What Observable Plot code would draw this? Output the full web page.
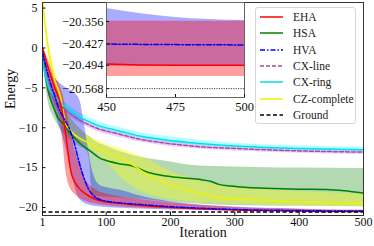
<!DOCTYPE html>
<html><head><meta charset="utf-8">
<script src="https://cdn.jsdelivr.net/npm/d3@7"></script>
<script src="https://cdn.jsdelivr.net/npm/@observablehq/plot@0.6"></script>
<style>
body{margin:0;background:white;}
#wrap{position:relative;width:374px;height:246px;overflow:hidden;font-family:"Liberation Serif",serif;background:white;}
#wrap svg.plotsvg{position:absolute;}
#legend{position:absolute;left:255px;top:7px;width:101px;height:117px;border:1px solid #d6d6d6;border-radius:3px;background:rgba(255,255,255,0.85);box-sizing:border-box;font-family:"Liberation Serif",serif;}
.row{position:absolute;left:4px;height:14px;display:flex;align-items:center;font-size:11.5px;color:#222;white-space:nowrap;}
.row svg{margin-right:9px;}
</style></head><body><div id="wrap"></div>
<script>
// ---------- data ----------
const xTicks = [1, 100, 200, 300, 400, 500];
const yTicks = [5, 0, -5, -10, -15, -20];
const insetXTicks = [450, 475, 500];
const insetYTicks = [-20.356, -20.427, -20.494, -20.568];
const groundEnergy = -20.568;

const ehaIter = [1, 10, 20, 29, 33, 37, 40, 45, 52, 58, 68, 84, 100, 125, 150, 200, 250, 300, 400, 450, 475, 500];
const ehaMean = [0, -2.5, -5, -7, -8.5, -10.8, -12.6, -15.4, -16.9, -17.6, -18.3, -19, -19.3, -19.5, -19.7, -20, -20.17, -20.3, -20.43, -20.49, -20.494, -20.494];
const ehaLo   = [-0.4, -4, -7, -9.2, -12, -15.2, -16.6, -17.7, -18.4, -18.8, -19.2, -19.55, -19.75, -19.95, -20.05, -20.2, -20.3, -20.4, -20.5, -20.53, -20.53, -20.53];
const ehaHi   = [0.4, -1.5, -3.5, -5, -6, -7.5, -8.5, -10.3, -13, -14.3, -16.5, -17.8, -18.3, -18.7, -18.95, -19.4, -19.75, -20.0, -20.25, -20.355, -20.355, -20.355];

const hvaIter = [1, 10, 20, 26, 34, 42, 50, 55, 60, 65, 72, 79, 90, 100, 125, 150, 200, 250, 300, 400, 450, 475, 500];
const hvaMean = [-0.5, -3.5, -6, -7.5, -8.8, -10, -11.8, -13.4, -14.9, -16.2, -17.6, -18.4, -19, -19.2, -19.45, -19.6, -19.9, -20.1, -20.25, -20.38, -20.427, -20.429, -20.43];
const hvaLo   = [-1, -5, -8, -9.5, -11.5, -14.2, -17, -18.4, -19.1, -19.4, -19.65, -19.8, -19.9, -20, -20.1, -20.2, -20.3, -20.38, -20.42, -20.47, -20.497, -20.497, -20.497];
const hvaHi   = [0, -2.2, -3.8, -4.3, -4.8, -5.2, -5.6, -6, -6.8, -9, -12.5, -15.5, -17.2, -17.5, -17.9, -18.5, -19.3, -19.7, -19.95, -20.2, -20.315, -20.343, -20.353];

const hsaIter = [1, 5, 10, 15, 20, 26, 36, 42, 50, 60, 75, 90, 100, 120, 141, 166, 193, 220, 247, 262, 275, 294, 320, 360, 400, 443, 470, 500];
const hsaMean = [-0.5, -3.2, -5.5, -6.8, -7.8, -8.9, -9.7, -10.5, -11.2, -12, -12.9, -13.8, -14.1, -14.5, -14.8, -15.6, -16.05, -16.3, -16.5, -16.7, -17.1, -17.3, -17.5, -17.6, -17.7, -17.75, -17.9, -18.2];
const hsaBandIter = [1, 10, 20, 30, 40, 50, 60, 70, 74, 77, 80, 100, 130, 160, 193, 232, 280, 350, 400, 500];
const hsaHi = [0, -3.8, -5.8, -7.2, -8.3, -9.3, -10.2, -10.9, -11.1, -11.3, -11.5, -12.3, -13.2, -13.8, -14.2, -14.7, -14.9, -15, -15.05, -15.1];
const hsaLo = [-1, -6.8, -8.9, -10.3, -11.2, -11.8, -12.4, -12.9, -14, -17.5, -18.5, -18.7, -18.8, -19.0, -19.3, -19.5, -19.7, -19.8, -19.85, -19.9];

const czIter = [1, 5, 10, 15, 21, 26, 30, 37, 45, 60, 73, 90, 110, 130, 151, 170, 193, 216, 250, 279, 320, 372, 430, 500];
const czMean = [6.2, 3, 0, -2.3, -4.3, -5.3, -6.5, -9.5, -10.4, -11.4, -11.9, -12.7, -13.4, -14.1, -15.2, -16.2, -17, -17.6, -18.3, -18.8, -19, -19.2, -19.35, -19.5];
const czBandIter = [1, 10, 20, 30, 45, 60, 80, 100, 130, 160, 200, 250, 300, 400, 500];
const czHi = [6.6, 1, -2.5, -5, -8.8, -10.4, -11.3, -12, -12.8, -13.8, -15.5, -16.8, -17.5, -18, -18.3];
const czLo = [5.8, -1.2, -5.5, -8.3, -11.2, -12.2, -12.9, -14.3, -16.8, -18.2, -19, -19.4, -19.6, -19.8, -19.9];

const cxIter = [1, 5, 10, 15, 20, 30, 40, 50, 60, 75, 90, 110, 125, 150, 190, 250, 300, 400, 500];
const ringMean = [-1.5, -3.3, -4.8, -5.6, -6.1, -6.9, -7.6, -8.2, -8.7, -9.3, -9.8, -10.2, -10.5, -11, -11.5, -12, -12.3, -12.6, -12.75];
const ringHi   = [-1.2, -2.9, -4.3, -5.1, -5.6, -6.4, -7.1, -7.7, -8.2, -8.8, -9.3, -9.75, -10.05, -10.55, -11.05, -11.6, -11.95, -12.3, -12.45];
const ringLo   = [-1.8, -3.6, -5.1, -5.9, -6.4, -7.2, -7.9, -8.5, -9.0, -9.6, -10.1, -10.5, -10.8, -11.3, -11.8, -12.3, -12.55, -12.85, -13.0];
const lineMean = [-1, -3.2, -5, -5.9, -6.5, -7.3, -8, -8.6, -9.1, -9.7, -10.2, -10.6, -10.9, -11.4, -11.9, -12.4, -12.6, -12.9, -13.05];
const lineHi   = [-0.8, -2.9, -4.7, -5.6, -6.2, -7.0, -7.7, -8.3, -8.8, -9.4, -9.9, -10.3, -10.6, -11.1, -11.6, -12.1, -12.35, -12.65, -12.8];
const lineLo   = [-1.3, -3.5, -5.4, -6.3, -6.9, -7.7, -8.4, -9.0, -9.5, -10.1, -10.6, -11.0, -11.3, -11.75, -12.25, -12.7, -12.9, -13.2, -13.35];

const names = ["EHA", "HSA", "HVA", "CX-line", "CX-ring", "CZ-complete", "Ground"];
const colors = ["#ff0000", "#008000", "#0000ff", "#a0509c", "#00e0e8", "#f2f200", "#000000"];
const fills  = ["#ff0000", "#008000", "#0000ff", "#cc55ff", "#00ffff", "#ffff00"];
const dashes = [null, null, "5,2,1.5,2", "4,2", null, null, "4,2.5"];

// ---------- tables ----------
const tbl = (iter, cols) => iter.map((x, i) => { const o = {x}; for (const k in cols) o[k] = cols[k][i]; return o; });
const S = [
  {line: tbl(ehaIter, {y: ehaMean}), band: tbl(ehaIter, {lo: ehaLo, hi: ehaHi}), op: 0.38},
  {line: tbl(hsaIter, {y: hsaMean}), band: tbl(hsaBandIter, {lo: hsaLo, hi: hsaHi}), op: 0.3},
  {line: tbl(hvaIter, {y: hvaMean}), band: tbl(hvaIter, {lo: hvaLo, hi: hvaHi}), op: 0.33},
  {line: tbl(cxIter, {y: lineMean}), band: tbl(cxIter, {lo: lineLo, hi: lineHi}), op: 0.3},
  {line: tbl(cxIter, {y: ringMean}), band: tbl(cxIter, {lo: ringLo, hi: ringHi}), op: 0.3},
  {line: tbl(czIter, {y: czMean}), band: tbl(czBandIter, {lo: czLo, hi: czHi}), op: 0.35}
];
const bandOrder = [1, 5, 3, 4, 2, 0];
const lineOrder = [1, 5, 3, 4, 0, 2];
const fmtMinus = d => d < 0 ? "\u2212" + String(-d) : String(d);

const bandMarks = bandOrder.map(i => Plot.areaY(S[i].band, {x: "x", y1: "lo", y2: "hi", fill: fills[i], fillOpacity: S[i].op, curve: "monotone-x", clip: true}));
const lineMarks = (w) => lineOrder.map(i => Plot.line(S[i].line, {x: "x", y: "y", stroke: colors[i], strokeWidth: w, strokeDasharray: dashes[i], curve: "monotone-x", clip: true}));

const wrap = document.getElementById("wrap");

const main = Plot.plot({
  width: 374, height: 246,
  marginLeft: 42, marginRight: 11, marginTop: 2, marginBottom: 31,
  x: {domain: [1, 500], axis: null},
  y: {domain: [-21, 5.7], axis: null},
  style: {fontFamily: "Liberation Serif, serif", fontSize: "12px", background: "white", color: "#111"},
  marks: [
    ...bandMarks,
    ...lineMarks(1.5),
    Plot.ruleY([groundEnergy], {stroke: colors[6], strokeWidth: 1.5, strokeDasharray: dashes[6]}),
    Plot.frame({stroke: "#333", strokeWidth: 1}),
    Plot.axisX(xTicks, {tickSize: -3.5, tickPadding: 5, tickFormat: d => String(d), fontSize: 12, label: null}),
    Plot.axisY(yTicks, {tickSize: -3.5, tickPadding: 8.5, tickFormat: fmtMinus, fontSize: 12, label: null}),
    Plot.text(["Energy"], {frameAnchor: "left", dx: -32, rotate: -90, fontSize: 14}),
    Plot.text(["Iteration"], {frameAnchor: "bottom", dy: 21, fontSize: 14})
  ]
});
main.classList.add("plotsvg");
main.style.left = "0px"; main.style.top = "0px";
wrap.appendChild(main);

const inset = Plot.plot({
  width: 220, height: 114,
  marginLeft: 62, marginRight: 20, marginTop: 2, marginBottom: 17,
  x: {domain: [450, 500], axis: null},
  y: {domain: [-20.596, -20.296], axis: null},
  style: {fontFamily: "Liberation Serif, serif", fontSize: "12.5px", background: "transparent", color: "#111"},
  marks: [
    Plot.frame({fill: "white"}),
    Plot.areaY(S[2].band, {x: "x", y1: "lo", y2: "hi", fill: fills[2], fillOpacity: S[2].op, curve: "monotone-x", clip: true}),
    Plot.areaY(S[0].band, {x: "x", y1: "lo", y2: "hi", fill: fills[0], fillOpacity: S[0].op, curve: "monotone-x", clip: true}),
    Plot.line(S[0].line, {x: "x", y: "y", stroke: colors[0], strokeWidth: 1.5, curve: "monotone-x", clip: true}),
    Plot.line(S[2].line, {x: "x", y: "y", stroke: colors[2], strokeWidth: 1.5, strokeDasharray: dashes[2], curve: "monotone-x", clip: true}),
    Plot.ruleY([groundEnergy], {stroke: "#444", strokeWidth: 1, strokeDasharray: "1.2,1.2"}),
    Plot.frame({stroke: "#666", strokeWidth: 1}),
    Plot.axisX(insetXTicks, {tickSize: -3, tickPadding: 7.5, tickFormat: d => String(d), fontSize: 12.5, label: null}),
    Plot.axisY(insetYTicks, {tickSize: -3, tickPadding: 6, tickFormat: d => "\u2212" + (-d).toFixed(3), fontSize: 12.5, label: null})
  ]
});
inset.classList.add("plotsvg");
inset.style.left = "44px"; inset.style.top = "0px";
wrap.appendChild(inset);

// legend
const leg = document.createElement("div");
leg.id = "legend";
names.forEach((n, i) => {
  const r = document.createElement("div");
  r.className = "row";
  r.style.top = (1.7 + 16.4 * i) + "px";
  const ns = "http://www.w3.org/2000/svg";
  const s = document.createElementNS(ns, "svg");
  s.setAttribute("width", "24"); s.setAttribute("height", "14");
  const l = document.createElementNS(ns, "line");
  l.setAttribute("x1", "0"); l.setAttribute("x2", "23"); l.setAttribute("y1", "7"); l.setAttribute("y2", "7");
  l.setAttribute("stroke", colors[i]); l.setAttribute("stroke-width", "1.5");
  if (dashes[i]) l.setAttribute("stroke-dasharray", dashes[i]);
  s.appendChild(l);
  r.appendChild(s);
  const t = document.createElement("span");
  t.textContent = n;
  r.appendChild(t);
  leg.appendChild(r);
});
wrap.appendChild(leg);
</script></body></html>
